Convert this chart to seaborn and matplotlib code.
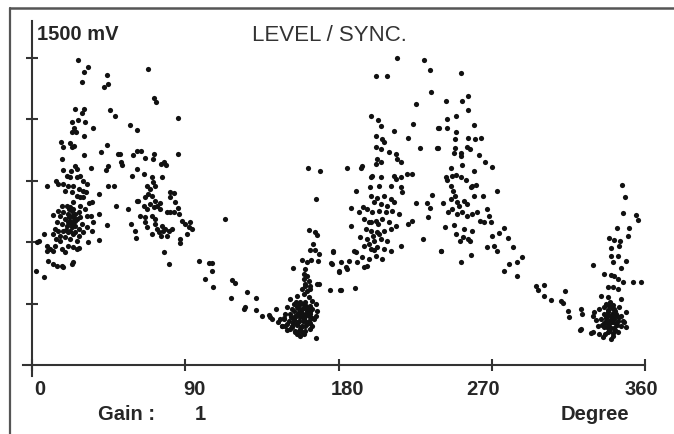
#!/usr/bin/env python3
"""Phase-resolved pulse pattern: LEVEL / SYNC. scatter, redrawn with seaborn."""

import matplotlib

matplotlib.use("Agg")
import matplotlib.pyplot as plt
import matplotlib.transforms as mtransforms
from matplotlib.lines import Line2D
import pandas as pd
import seaborn as sns

# (phase in degree, level in mV), grouped by region of the pattern
peak_0_40 = [
    (26.9, 1492), (33.1, 1457), (30.6, 1433), (29.6, 1381), (25.1, 1252), (30.6, 1252),
    (29.6, 1230), (23.3, 1189), (26.9, 1195), (31.4, 1189), (35.9, 1156), (24.9, 1158),
    (23.3, 1140), (25.7, 1140), (30.6, 1119), (16.9, 1091), (22.4, 1085), (18.1, 1065),
    (23.7, 1067), (24.9, 1071), (30.6, 1026), (17.8, 1006), (34.9, 963), (18.1, 954),
    (23.1, 946), (25.1, 971), (26.3, 958), (13.9, 900), (15.1, 886), (9.0, 875),
    (39.4, 834), (39.6, 738), (39.4, 612),
    (20.4, 925), (22.4, 917), (26.3, 917), (28.2, 925), (30.2, 900), (32.2, 884),
    (18.4, 884), (21.4, 876), (24.3, 876), (27.3, 860), (29.8, 852), (31.8, 843),
    (19.4, 852), (23.3, 843), (26.3, 827), (28.2, 819), (30.2, 819), (33.7, 792),
    (35.1, 798), (20.4, 778), (22.4, 770), (24.3, 762), (18.4, 746), (21.4, 738),
    (23.3, 729), (25.3, 738), (27.3, 746), (16.5, 729), (19.4, 713), (22.4, 705),
    (24.3, 697), (26.3, 713), (28.2, 721), (17.5, 689), (20.4, 681), (23.3, 673),
    (25.3, 681), (27.3, 664), (29.2, 689), (18.4, 656), (21.4, 648), (24.3, 640),
    (27.3, 632), (30.2, 648), (32.2, 673), (16.5, 632), (19.4, 624), (22.4, 616),
    (26.3, 607), (14.5, 697), (13.5, 664), (15.5, 754), (17.5, 778), (24.3, 795),
    (28.2, 778), (31.2, 762), (32.2, 729), (21.4, 583), (24.3, 575), (26.3, 567),
    (12.2, 733), (15.5, 656), (12.5, 640), (14.1, 616), (16.5, 607), (7.1, 638),
    (4.3, 607), (2.7, 603), (8.6, 583), (10.6, 567), (9.0, 556), (13.5, 583),
    (12.5, 558), (17.5, 567), (19.4, 551), (27.8, 570), (33.1, 599), (35.1, 656),
    (36.1, 697), (34.5, 729), (9.6, 509), (12.5, 493), (14.5, 485), (17.5, 485),
    (18.4, 477), (23.3, 493), (24.3, 502), (2.4, 461), (7.1, 428),
    (21.0, 700), (23.0, 690), (25.0, 705), (22.0, 725), (24.5, 720), (20.0, 660),
    (22.5, 655), (25.5, 650), (21.5, 760), (23.5, 750),
]

peak_40_95 = [
    (44.0, 1418), (44.9, 1374), (42.2, 1358), (45.7, 1246), (48.6, 1215), (57.3, 1173),
    (61.6, 1148), (44.1, 1075), (40.4, 1042), (50.4, 1029), (51.6, 1029), (52.5, 990),
    (52.9, 977), (59.4, 1026), (61.8, 1047), (44.9, 971), (43.5, 954), (58.6, 923),
    (61.9, 956), (44.9, 873), (48.4, 873), (49.4, 775), (56.6, 761), (61.6, 803),
    (58.2, 689), (60.4, 655), (61.2, 620), (44.1, 686),
    (68.2, 1448), (71.6, 1306), (72.8, 1284), (85.5, 1208), (64.0, 1046), (66.5, 1010),
    (71.0, 1007), (71.9, 1029), (75.7, 982), (77.6, 990), (78.6, 977), (85.5, 1029),
    (65.5, 931), (70.4, 917), (71.0, 893), (72.5, 876), (76.3, 917), (67.5, 876),
    (69.0, 860), (62.5, 803), (66.5, 819), (68.4, 836), (70.4, 827), (72.4, 803),
    (74.9, 792), (81.2, 847), (83.5, 840), (81.2, 819), (84.1, 795), (85.5, 766),
    (83.1, 746), (80.8, 746), (79.2, 749), (86.1, 738), (65.5, 778), (67.5, 762),
    (69.4, 787), (71.4, 771), (73.3, 778), (75.3, 762), (63.5, 729), (66.5, 722),
    (70.4, 729), (72.4, 713), (66.5, 697), (67.5, 673), (72.4, 689), (73.3, 664),
    (74.3, 648), (76.3, 681), (76.9, 656), (78.2, 664), (80.2, 656), (82.2, 664),
    (70.4, 640), (75.7, 632), (79.2, 632), (88.1, 705), (90.0, 689), (92.9, 697),
    (92.0, 673), (94.0, 664), (91.2, 640), (87.1, 616), (87.1, 594), (77.3, 554),
    (80.2, 493),
]

tail_95_150 = [
    (113.5, 713), (98.0, 509), (103.7, 497), (105.7, 497), (105.7, 461), (101.8, 420),
    (106.3, 381), (117.5, 415), (119.4, 399), (117.1, 329), (126.3, 355), (131.8, 329),
    (124.3, 274), (125.3, 283), (131.8, 270), (135.1, 241), (139.0, 246), (140.0, 233),
    (141.0, 225), (143.5, 272), (144.3, 209), (146.9, 192), (148.8, 189), (147.8, 231),
    (153.3, 472), (162.0, 961), (169.4, 946), (166.5, 811),
]

trough_150_180 = [
    (162.9, 661), (165.9, 651), (167.1, 635), (164.9, 591), (163.1, 562), (165.9, 562),
    (168.4, 542), (163.9, 514), (167.8, 509), (158.6, 514), (161.6, 502), (160.6, 469),
    (159.6, 445), (161.6, 436), (162.5, 412), (160.6, 396), (163.5, 387), (167.5, 396),
    (168.4, 396), (176.6, 554), (175.7, 497), (180.2, 456), (174.9, 366), (180.8, 366),
    (166.7, 130), (149.8, 170), (157.6, 143), (158.6, 160), (152.7, 184), (154.7, 160),
    (151.8, 322), (155.7, 339), (159.6, 347), (162.5, 331), (164.5, 314), (153.7, 298),
    (157.6, 306), (160.6, 306), (163.5, 290), (166.5, 298), (149.8, 282), (152.7, 273),
    (155.7, 282), (158.6, 273), (161.6, 265), (164.5, 273), (167.5, 265), (148.8, 249),
    (151.8, 249), (154.7, 241), (157.6, 249), (160.6, 241), (163.5, 249), (166.5, 241),
    (147.8, 225), (150.8, 216), (153.7, 225), (156.7, 216), (159.6, 225), (162.5, 216),
    (165.5, 225), (149.8, 200), (152.7, 192), (155.7, 200), (158.6, 192), (161.6, 200),
    (164.5, 192), (151.8, 176), (154.7, 168), (157.6, 176), (160.6, 168), (163.5, 176),
    (155.7, 151), (159.6, 151), (146.9, 192), (145.9, 225), (159.6, 420), (160.6, 388),
    (158.6, 371), (161.6, 363), (163.5, 371),
    (155.0, 310), (157.0, 295), (159.0, 300), (161.0, 290), (156.0, 280), (158.0, 265),
    (160.0, 280), (162.0, 275), (154.0, 262), (156.5, 255), (159.0, 250), (161.5, 255),
    (163.5, 260), (155.0, 238), (157.5, 232), (160.0, 235), (162.5, 240), (154.0, 220),
    (156.5, 210), (159.0, 215), (161.0, 208), (163.0, 205), (155.5, 195), (158.0, 185),
    (160.5, 190), (157.0, 165), (153.0, 205), (152.0, 235), (164.5, 230),
]

peak_180_240 = [
    (214.5, 1500), (230.2, 1492), (233.5, 1440), (234.5, 1335), (225.5, 1277), (201.8, 1412),
    (208.2, 1412), (198.8, 1218), (203.1, 1199), (205.1, 1169), (212.5, 1143), (223.7, 1179),
    (220.8, 1111), (228.1, 1060), (238.3, 1060), (238.6, 1157), (201.8, 1121), (205.7, 1104),
    (206.7, 1088), (201.8, 1063), (204.7, 1055), (202.7, 1007), (204.7, 990), (201.8, 982),
    (209.6, 1039), (213.5, 1031), (214.5, 1007), (216.5, 990), (184.7, 963), (193.4, 963),
    (194.0, 971), (198.8, 917), (199.8, 925), (204.7, 917), (212.5, 925), (213.5, 909),
    (216.9, 917), (220.0, 933), (223.3, 933), (190.0, 849), (198.4, 868), (203.7, 876),
    (210.6, 876), (216.5, 868), (217.5, 844), (235.1, 832), (232.2, 792), (233.7, 767),
    (225.3, 792), (232.5, 722), (223.3, 705), (220.8, 689), (187.5, 767), (192.0, 746),
    (194.5, 771),
    (198.8, 827), (202.7, 814), (206.7, 827), (210.6, 811), (200.8, 795), (204.7, 787),
    (208.6, 778), (212.5, 795), (196.9, 762), (199.8, 746), (203.7, 754), (207.7, 746),
    (211.6, 754), (215.5, 738), (194.9, 713), (197.9, 697), (201.8, 705), (205.7, 713),
    (209.6, 697), (213.5, 681), (195.9, 664), (198.8, 656), (202.7, 648), (206.7, 656),
    (210.6, 664), (192.9, 624), (196.9, 616), (200.8, 607), (204.7, 616), (208.6, 607),
    (194.9, 583), (198.8, 567), (202.7, 575), (206.7, 567), (210.6, 558), (216.5, 583),
    (193.9, 526), (197.9, 518), (201.8, 534), (205.7, 518),
    (187.5, 681), (176.9, 558), (186.1, 510), (189.0, 558), (180.2, 461), (185.1, 469),
    (194.9, 477), (181.2, 502), (176.3, 493), (191.0, 502), (196.9, 485), (190.0, 550),
    (229.8, 616), (240.0, 558), (181.2, 366), (189.4, 376), (184.5, 480),
    (199.0, 700), (203.0, 690), (200.0, 630), (204.0, 640), (198.0, 590), (201.0, 560),
]

peak_240_290 = [
    (251.8, 1427), (243.3, 1291), (252.4, 1291), (256.1, 1313), (256.1, 1246), (243.9, 1202),
    (249.2, 1215), (238.9, 1157), (243.9, 1157), (259.6, 1173), (249.2, 1137), (248.6, 1104),
    (256.1, 1107), (260.2, 1104), (263.9, 1111), (238.0, 1059), (248.4, 1059), (255.7, 1064),
    (257.3, 1055), (247.8, 1036), (251.8, 1036), (251.8, 1020), (262.5, 1026), (252.4, 977),
    (265.9, 990), (270.4, 966), (259.6, 949), (245.9, 961), (242.9, 917), (243.9, 905),
    (246.9, 925), (248.8, 928), (251.8, 917), (254.7, 905), (258.6, 876), (260.6, 879),
    (257.6, 868), (245.9, 876), (247.2, 852), (248.6, 827), (246.3, 811), (249.4, 795),
    (250.8, 778), (253.7, 803), (255.7, 787), (259.6, 827), (265.1, 827), (273.3, 849),
    (241.5, 792), (244.3, 749), (246.9, 762), (249.8, 738), (252.7, 746), (255.7, 729),
    (258.6, 738), (261.6, 746), (263.1, 705), (265.5, 697), (267.5, 762), (268.4, 729),
    (269.4, 700), (242.3, 673), (247.8, 684), (253.7, 664), (258.6, 656), (253.3, 624),
    (256.1, 616), (257.3, 607), (251.4, 607), (248.8, 640), (276.9, 668), (274.3, 645),
    (270.4, 629), (279.6, 621), (267.1, 578), (271.4, 583), (273.0, 558), (282.2, 577),
    (240.0, 556), (251.8, 502), (257.6, 539), (287.5, 526), (285.1, 502), (280.2, 493),
    (277.3, 458), (285.1, 436),
]

tail_290_330 = [
    (295.9, 384), (297.3, 368), (300.4, 391), (300.8, 339), (304.7, 318), (310.6, 314),
    (311.6, 303), (313.3, 362), (314.5, 265), (315.5, 236), (322.4, 274), (322.9, 249),
    (321.9, 171), (328.1, 156), (329.2, 489),
]

trough_330_360 = [
    (346.3, 879), (348.2, 819), (347.3, 741), (354.7, 733), (355.7, 708), (343.5, 668),
    (350.8, 668), (349.8, 629), (339.0, 621), (342.0, 611), (345.5, 607), (340.0, 572),
    (344.9, 580), (340.0, 534), (344.0, 534), (348.8, 510), (341.0, 505), (345.9, 472),
    (336.1, 445), (340.0, 440), (342.0, 436), (344.0, 420), (346.9, 404), (352.7, 404),
    (357.6, 404), (338.0, 380), (341.0, 380), (344.0, 371), (334.1, 336), (338.0, 331),
    (345.9, 322),
    (330.2, 257), (333.1, 274), (336.1, 282), (339.0, 290), (342.0, 274), (345.0, 282),
    (338.0, 257), (340.0, 241), (343.0, 249), (345.9, 241), (334.1, 225), (337.1, 216),
    (340.0, 208), (344.0, 216), (347.9, 208), (332.2, 192), (336.1, 184), (339.0, 192),
    (342.0, 179), (345.9, 192), (329.2, 160), (333.1, 151), (338.0, 160), (341.0, 143),
    (344.0, 160), (340.0, 127), (335.1, 135), (322.4, 176), (329.2, 241), (348.8, 257),
    (348.8, 184), (346.9, 216), (337.1, 241), (341.0, 233), (339.0, 176), (343.0, 200),
    (337.0, 300), (339.5, 310), (341.5, 295), (338.0, 270), (340.5, 280), (342.5, 265),
    (336.0, 250), (338.5, 245), (341.0, 255), (343.5, 240), (337.0, 228), (339.5, 220),
    (342.0, 225), (344.5, 232), (336.0, 205), (338.5, 200), (341.0, 210), (343.5, 195),
    (337.5, 185), (340.0, 180), (342.5, 170), (339.0, 165), (336.5, 150), (341.5, 155),
    (334.5, 195), (331.5, 220),
]

x_ticks = [0, 90, 180, 270, 360]
y_ticks = [300, 600, 900, 1200, 1500]
# point nudges of the printed tick numbers (the instrument places them unevenly)
x_label_nudge = [5.8, 6.5, 6.5, -6.5, -2.9]

groups = [peak_0_40, peak_40_95, tail_95_150, trough_150_180,
          peak_180_240, peak_240_290, tail_290_330, trough_330_360]
df = pd.DataFrame([pt for g in groups for pt in g], columns=["degree", "mv"])

sns.set_theme(style="white")
plt.rcParams["font.family"] = ["Liberation Sans", "DejaVu Sans"]

fig = plt.figure(figsize=(6.74, 4.35), dpi=100)
fig.patch.set_facecolor("white")
ax = fig.add_axes([23 / 674, 58 / 435, 622 / 674, 355 / 435])
ax.set_facecolor("white")

sns.scatterplot(data=df, x="degree", y="mv", ax=ax, s=14, color="#111111",
                linewidth=0, marker="o", legend=False)

ax.set_xlim(-5.3, 360)
ax.set_ylim(-54, 1681)
for side in ("top", "right"):
    ax.spines[side].set_visible(False)
for side in ("left", "bottom"):
    ax.spines[side].set_position(("data", 0))
    ax.spines[side].set_color("#333333")
    ax.spines[side].set_linewidth(1.5)

ax.set_xticks(x_ticks)
ax.set_xticklabels([str(t) for t in x_ticks], fontsize=14.5, fontweight="bold")
ax.set_yticks(y_ticks)
ax.set_yticklabels([])
ax.tick_params(axis="both", direction="inout", length=8.6, width=1.5,
               color="#333333", bottom=True, left=True)
ax.tick_params(axis="x", pad=5.5)
for lab, dx in zip(ax.get_xticklabels(), x_label_nudge):
    lab.set_transform(lab.get_transform()
                      + mtransforms.ScaledTranslation(dx / 72, 0, fig.dpi_scale_trans))
ax.set_xlabel("")
ax.set_ylabel("")

fig.text(37 / 674, 1 - 35 / 435, "1500 mV", fontsize=14.5, fontweight="bold",
         ha="left", va="center")
fig.text(329 / 674, 1 - 36 / 435, "LEVEL / SYNC.", fontsize=16, color="#333333",
         ha="center", va="center")
fig.text(98 / 674, 1 - 415 / 435, "Gain :", fontsize=14.5, fontweight="bold",
         ha="left", va="center")
fig.text(200 / 674, 1 - 415 / 435, "1", fontsize=14.5, fontweight="bold",
         ha="center", va="center")
fig.text(629 / 674, 1 - 415 / 435, "Degree", fontsize=14.5, fontweight="bold",
         ha="right", va="center")

# instrument screen frame: only its top and left edges are inside the crop
frame_x = 10 / 674
frame_top = 1 - 8.5 / 435
fig.lines.append(Line2D([frame_x, 1.0], [frame_top, frame_top], transform=fig.transFigure,
                        color="#555555", linewidth=1.8))
fig.lines.append(Line2D([frame_x, frame_x], [0.0, frame_top], transform=fig.transFigure,
                        color="#555555", linewidth=1.6))

fig.savefig("out.png", dpi=100, facecolor="white")
